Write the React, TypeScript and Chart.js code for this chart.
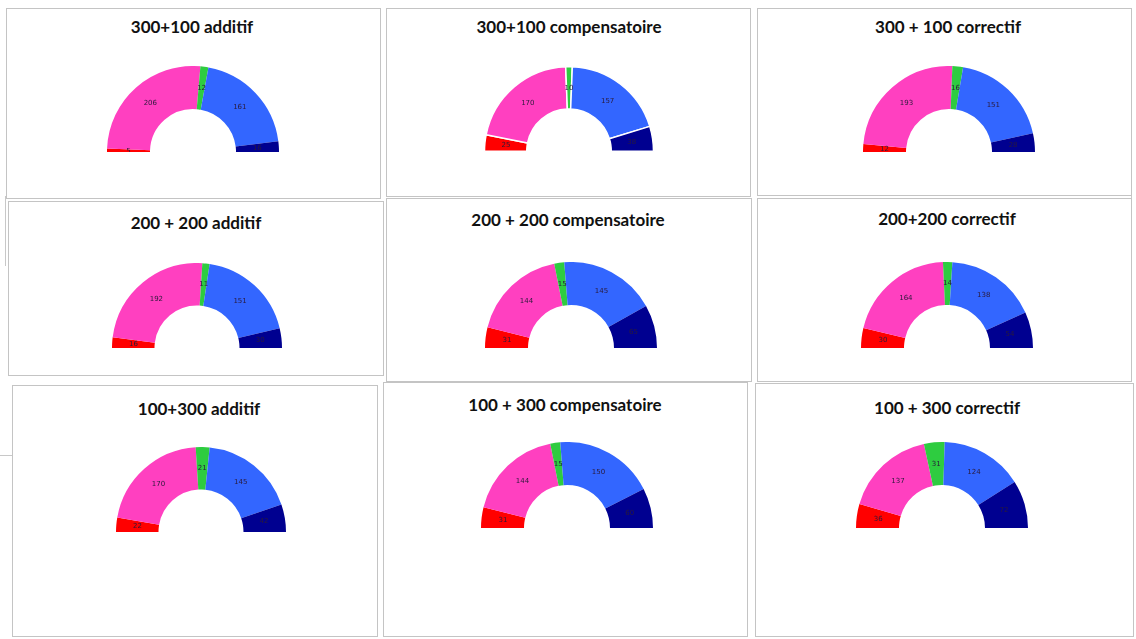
import React, { useEffect, useRef } from "react";
import { Chart, registerables } from "chart.js";

Chart.register(...registerables);

// ---- data (seats per group, 400 seats total) ----
const titles = [
  "300+100 additif",
  "300+100 compensatoire",
  "300 + 100 correctif",
  "200 + 200 additif",
  "200 + 200 compensatoire",
  "200+200 correctif",
  "100+300 additif",
  "100 + 300 compensatoire",
  "100 + 300 correctif",
];
const groups = ["Rouge", "Rose", "Vert", "Bleu", "Bleu foncé"];
const redSeats = [5, 25, 12, 16, 31, 30, 22, 31, 36];
const pinkSeats = [206, 170, 193, 192, 144, 164, 170, 144, 137];
const greenSeats = [12, 10, 16, 11, 15, 14, 21, 15, 31];
const blueSeats = [161, 157, 151, 151, 145, 138, 145, 150, 124];
const navySeats = [16, 38, 28, 30, 65, 54, 42, 60, 72];

// ---- styles / layout ----
const colors = ["#ff0000", "#ff40c0", "#2ecc40", "#3366ff", "#000090"];
const layout = [
  { x: 6, y: 8, w: 375, h: 191, cx: 193, cy: 152, r: 86, tx: 192, ty: 27, sep: 0 },
  { x: 386, y: 8, w: 365, h: 189, cx: 569, cy: 152, r: 86, tx: 569, ty: 27, sep: 1.5 },
  { x: 757, y: 8, w: 375, h: 188, cx: 949, cy: 152, r: 86, tx: 948, ty: 27, sep: 0 },
  { x: 8, y: 201, w: 376, h: 175, cx: 197, cy: 348, r: 85, tx: 196, ty: 223, sep: 0 },
  { x: 386, y: 198, w: 366, h: 184, cx: 571, cy: 348, r: 86, tx: 568, ty: 220, sep: 0 },
  { x: 757, y: 198, w: 375, h: 184, cx: 947, cy: 348, r: 86, tx: 947, ty: 219, sep: 0 },
  { x: 12, y: 385, w: 366, h: 252, cx: 201, cy: 532, r: 85, tx: 199, ty: 409, sep: 0 },
  { x: 383, y: 382, w: 365, h: 255, cx: 567, cy: 528, r: 86, tx: 565, ty: 405, sep: 0 },
  { x: 755, y: 383, w: 379, h: 254, cx: 942, cy: 528, r: 86, tx: 947, ty: 408, sep: 0 },
];

const valueLabels = {
  id: "valueLabels",
  afterDatasetsDraw(chart: any) {
    const ctx = chart.ctx;
    const meta = chart.getDatasetMeta(0);
    const data = chart.data.datasets[0].data as number[];
    ctx.save();
    ctx.font = "7px 'DejaVu Sans', sans-serif";
    ctx.fillStyle = "#2a1a3a";
    ctx.textAlign = "center";
    ctx.textBaseline = "middle";
    meta.data.forEach((arc: any, i: number) => {
      const p = arc.tooltipPosition();
      ctx.fillText(String(data[i]), p.x, p.y);
    });
    ctx.restore();
  },
};

function Gauge({ idx }: { idx: number }) {
  const ref = useRef<HTMLCanvasElement>(null);
  const L = layout[idx];
  useEffect(() => {
    if (!ref.current) return;
    const chart = new Chart(ref.current, {
      type: "doughnut",
      data: {
        labels: groups,
        datasets: [
          {
            data: [redSeats[idx], pinkSeats[idx], greenSeats[idx], blueSeats[idx], navySeats[idx]],
            backgroundColor: colors,
            borderColor: "#ffffff",
            borderWidth: L.sep,
          },
        ],
      },
      options: {
        responsive: false,
        animation: false,
        events: [],
        rotation: -90,
        circumference: 180,
        cutout: "50%",
        layout: { padding: 0 },
        plugins: { legend: { display: false }, tooltip: { enabled: false }, title: { display: false } },
      },
      plugins: [valueLabels],
    });
    return () => chart.destroy();
  }, []);
  return (
    <canvas
      ref={ref}
      width={L.r * 2}
      height={L.r}
      style={{ position: "absolute", left: L.cx - L.r, top: L.cy - L.r, width: L.r * 2, height: L.r }}
    />
  );
}

export default function App() {
  return (
    <div
      style={{
        position: "fixed",
        left: 0,
        top: 0,
        width: 1136,
        height: 639,
        background: "#ffffff",
        overflow: "hidden",
        fontFamily: "Lato, 'Open Sans', sans-serif",
      }}
    >
      {/* faint edges of underlying panels */}
      <div style={{ position: "absolute", left: 5, top: 196, width: 1, height: 70, background: "#c8c8c8" }} />
      <div style={{ position: "absolute", left: 1131, top: 196, width: 1, height: 70, background: "#c8c8c8" }} />
      <div style={{ position: "absolute", left: 0, top: 455, width: 12, height: 1, background: "#c8c8c8" }} />
      {layout.map((L, i) => (
        <div
          key={"p" + i}
          style={{
            position: "absolute",
            left: L.x,
            top: L.y,
            width: L.w - 2,
            height: L.h - 2,
            border: "1px solid #c4c4c4",
            background: "#ffffff",
          }}
        />
      ))}
      {layout.map((L, i) => (
        <div
          key={"t" + i}
          style={{
            position: "absolute",
            left: L.tx - 170,
            top: L.ty - 11,
            width: 340,
            height: 22,
            lineHeight: "22px",
            textAlign: "center",
            fontWeight: 700,
            fontSize: 17,
            color: "#111",
          }}
        >
          {titles[i]}
        </div>
      ))}
      {layout.map((_, i) => (
        <Gauge key={"g" + i} idx={i} />
      ))}
    </div>
  );
}
